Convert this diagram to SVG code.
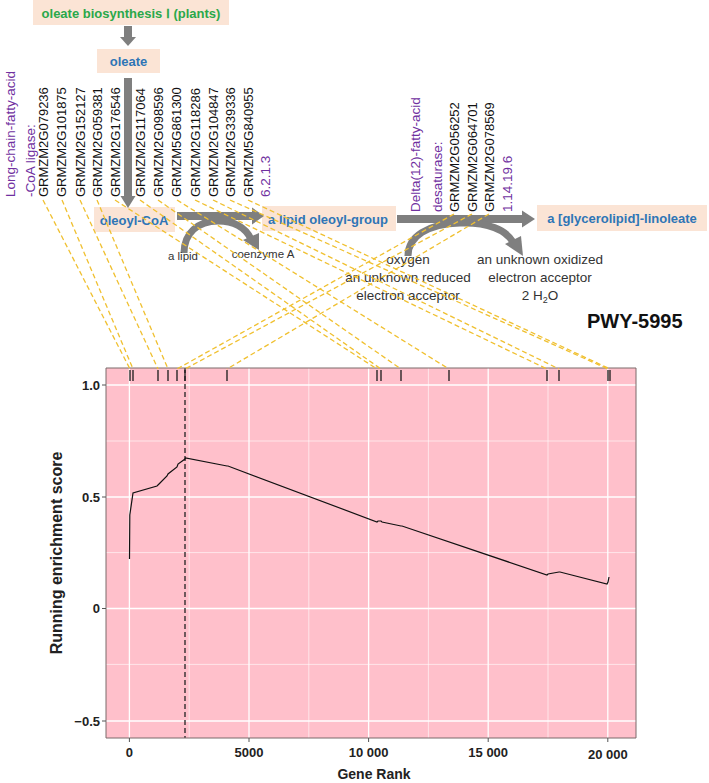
<svg xmlns="http://www.w3.org/2000/svg" width="709" height="783" viewBox="0 0 709 783">
<style>
text{font-family:'Liberation Sans',Arial,sans-serif;}
.box{fill:#fbe4d5;}
.met{fill:#2e75b6;font-weight:bold;font-size:13px;}
.gene{fill:#111;font-size:13px;}
.enz{fill:#7030a0;font-size:13.5px;}
.side{fill:#333;font-size:13.5px;text-anchor:middle;}
.side2{fill:#333;font-size:11.5px;text-anchor:middle;}
.gray{fill:#7f7f7f;}
.curve{fill:none;stroke:#7f7f7f;stroke-width:7;}
.dash{stroke:#f0c030;stroke-width:1.3;stroke-dasharray:5,3;fill:none;}
.gmaj{stroke:#ffffff;stroke-width:1.3;}
.gmin{stroke:#ffffff;stroke-width:0.6;}
.rug{stroke:#1a1a1a;stroke-width:1.3;}
.tick{fill:#222;font-size:13px;font-weight:bold;}
.axt{stroke:#555;stroke-width:1;}
</style>

<!-- pathway nodes -->
<g id="node-oleate-biosynthesis">
<rect class="box" x="33" y="0" width="196" height="25"/>
<text x="131" y="17.5" text-anchor="middle" style="fill:#2aa84a;font-weight:bold;font-size:13px;">oleate biosynthesis Ⅰ (plants)</text>
</g>
<g id="node-oleate">
<rect class="box" x="97" y="49" width="63" height="24"/>
<text class="met" x="128.5" y="66" text-anchor="middle">oleate</text>
</g>
<g id="node-oleoyl-coa">
<rect class="box" x="94" y="207" width="81" height="25"/>
<text class="met" x="134" y="224.5" text-anchor="middle">oleoyl-CoA</text>
</g>
<g id="node-lipid-oleoyl">
<rect class="box" x="262" y="206" width="134" height="25"/>
<text class="met" x="328" y="223.5" text-anchor="middle">a lipid oleoyl-group</text>
</g>
<g id="node-linoleate">
<rect class="box" x="537" y="205" width="170" height="26"/>
<text class="met" x="622" y="223" text-anchor="middle">a [glycerolipid]-linoleate</text>
</g>

<!-- reaction arrows -->
<g id="reaction-arrows">
<rect class="gray" x="124" y="26" width="8" height="11"/>
<polygon class="gray" points="120,37 136,37 128,46"/>
<rect class="gray" x="124" y="78" width="8" height="119"/>
<polygon class="gray" points="120.5,196 135.5,196 128,208"/>
<rect class="gray" x="177" y="212" width="76" height="8"/>
<polygon class="gray" points="252,207.5 252,224.5 264,216"/>
<path class="curve" d="M184,253 C184,233 198,221 218,221 C236,221 246,229 251,239"/>
<polygon class="gray" points="243,240 259,233 259,250"/>
<rect class="gray" x="397" y="215" width="126" height="8"/>
<polygon class="gray" points="522,210.5 522,227.5 535,219"/>
<path class="curve" d="M408,256 C408,236 428,224 460,223 C488,222 506,230 513,242"/>
<polygon class="gray" points="505,244 521,236 523,256"/>
</g>

<!-- side compounds -->
<g id="side-compounds">
<text class="side2" x="183" y="260">a lipid</text>
<text class="side2" x="263" y="258">coenzyme A</text>
<text class="side" x="408" y="264">oxygen</text>
<text class="side" x="408" y="282">an unknown reduced</text>
<text class="side" x="408" y="300">electron acceptor</text>
<text class="side" x="540" y="264">an unknown oxidized</text>
<text class="side" x="540" y="282">electron acceptor</text>
<text class="side" x="540" y="300">2 H<tspan font-size="9" dy="3">2</tspan><tspan dy="-3">O</tspan></text>
</g>

<!-- enzyme labels -->
<g id="enzyme-ligase">
<text class="enz" transform="translate(15,197) rotate(-90)">Long-chain-fatty-acid</text>
<text class="enz" transform="translate(35,197) rotate(-90)">-CoA ligase:</text>
<text class="gene" transform="translate(47.5,197) rotate(-90)">GRMZM2G079236</text>
<text class="gene" transform="translate(66,197) rotate(-90)">GRMZM2G101875</text>
<text class="gene" transform="translate(84.5,197) rotate(-90)">GRMZM2G152127</text>
<text class="gene" transform="translate(101.5,197) rotate(-90)">GRMZM2G059381</text>
<text class="gene" transform="translate(119.5,197) rotate(-90)">GRMZM2G176546</text>
<text class="gene" transform="translate(144.5,197) rotate(-90)">GRMZM2G117064</text>
<text class="gene" transform="translate(162.5,197) rotate(-90)">GRMZM2G098596</text>
<text class="gene" transform="translate(181,197) rotate(-90)">GRMZM5G861300</text>
<text class="gene" transform="translate(199.5,197) rotate(-90)">GRMZM2G118286</text>
<text class="gene" transform="translate(217.5,197) rotate(-90)">GRMZM2G104847</text>
<text class="gene" transform="translate(234.5,197) rotate(-90)">GRMZM2G339336</text>
<text class="gene" transform="translate(252.5,197) rotate(-90)">GRMZM5G840955</text>
<text class="enz" transform="translate(270,197) rotate(-90)">6.2.1.3</text>
</g>
<g id="enzyme-desaturase">
<text class="enz" transform="translate(420,212) rotate(-90)">Delta(12)-fatty-acid</text>
<text class="enz" transform="translate(442,212) rotate(-90)">desaturase:</text>
<text class="gene" transform="translate(458.5,212) rotate(-90)">GRMZM2G056252</text>
<text class="gene" transform="translate(476.5,212) rotate(-90)">GRMZM2G064701</text>
<text class="gene" transform="translate(493.5,212) rotate(-90)">GRMZM2G078569</text>
<text class="enz" transform="translate(512,212) rotate(-90)">1.14.19.6</text>
</g>

<text x="587" y="328" style="font-size:20px;font-weight:bold;fill:#111;">PWY-5995</text>

<!-- plot -->
<g id="plot">
<rect x="106" y="368" width="530" height="370" fill="#ffc0cb"/>
<g>
<line class="gmin" x1="189.2" y1="368" x2="189.2" y2="738"/>
<line class="gmin" x1="308.8" y1="368" x2="308.8" y2="738"/>
<line class="gmin" x1="428.4" y1="368" x2="428.4" y2="738"/>
<line class="gmin" x1="548" y1="368" x2="548" y2="738"/>
<line class="gmin" x1="106" y1="441" x2="636" y2="441"/>
<line class="gmin" x1="106" y1="552.6" x2="636" y2="552.6"/>
<line class="gmin" x1="106" y1="664.4" x2="636" y2="664.4"/>
<line class="gmaj" x1="129.4" y1="368" x2="129.4" y2="738"/>
<line class="gmaj" x1="249" y1="368" x2="249" y2="738"/>
<line class="gmaj" x1="368.6" y1="368" x2="368.6" y2="738"/>
<line class="gmaj" x1="488.2" y1="368" x2="488.2" y2="738"/>
<line class="gmaj" x1="607.8" y1="368" x2="607.8" y2="738"/>
<line class="gmaj" x1="106" y1="385" x2="636" y2="385"/>
<line class="gmaj" x1="106" y1="497" x2="636" y2="497"/>
<line class="gmaj" x1="106" y1="608.5" x2="636" y2="608.5"/>
<line class="gmaj" x1="106" y1="721" x2="636" y2="721"/>
</g>
<line x1="185" y1="368" x2="185" y2="738" stroke="#222" stroke-width="1.3" stroke-dasharray="5,3"/>
<g>
<line class="rug" x1="130" y1="370" x2="130" y2="381"/>
<line class="rug" x1="133" y1="370" x2="133" y2="381"/>
<line class="rug" x1="158" y1="370" x2="158" y2="381"/>
<line class="rug" x1="168" y1="370" x2="168" y2="381"/>
<line class="rug" x1="177" y1="370" x2="177" y2="381"/>
<line class="rug" x1="185" y1="370" x2="185" y2="381"/>
<line class="rug" x1="227" y1="370" x2="227" y2="381"/>
<line class="rug" x1="377" y1="370" x2="377" y2="381"/>
<line class="rug" x1="381" y1="370" x2="381" y2="381"/>
<line class="rug" x1="401" y1="370" x2="401" y2="381"/>
<line class="rug" x1="449" y1="370" x2="449" y2="381"/>
<line class="rug" x1="547" y1="370" x2="547" y2="381"/>
<line class="rug" x1="559" y1="370" x2="559" y2="381"/>
<line class="rug" x1="608" y1="370" x2="608" y2="381"/>
<line class="rug" x1="610" y1="370" x2="610" y2="381"/>
</g>
<polyline fill="none" stroke="#111" stroke-width="1.2" points="129.5,559 129.8,515 133,493 157,486 159,484 167,476 168,474 177,467 178,464 185,459 185.5,458 227,466 228,466 377,522 378,521 381,521 382,522 401,526 402,526 547,575 548,574 559,572 560,572 607,584 608,582 609,577"/>
<path d="M106,368 V738 H636 V368 Z" fill="none" stroke="#7a6a6a" stroke-width="1"/>
<g>
<line class="axt" x1="102" y1="385" x2="106" y2="385"/>
<line class="axt" x1="102" y1="497" x2="106" y2="497"/>
<line class="axt" x1="102" y1="608.5" x2="106" y2="608.5"/>
<line class="axt" x1="102" y1="721" x2="106" y2="721"/>
<line class="axt" x1="129.4" y1="738" x2="129.4" y2="742"/>
<line class="axt" x1="249" y1="738" x2="249" y2="742"/>
<line class="axt" x1="368.6" y1="738" x2="368.6" y2="742"/>
<line class="axt" x1="488.2" y1="738" x2="488.2" y2="742"/>
<line class="axt" x1="607.8" y1="738" x2="607.8" y2="742"/>
</g>
<g text-anchor="end">
<text class="tick" x="100" y="389.5">1.0</text>
<text class="tick" x="100" y="501.5">0.5</text>
<text class="tick" x="100" y="613">0</text>
<text class="tick" x="100" y="725.5">−0.5</text>
</g>
<g text-anchor="middle">
<text class="tick" x="129.4" y="757">0</text>
<text class="tick" x="249" y="757">5000</text>
<text class="tick" x="368.6" y="757">10 000</text>
<text class="tick" x="488.2" y="757">15 000</text>
<text class="tick" x="607.8" y="759">20 000</text>
</g>
<text x="374" y="779" text-anchor="middle" style="font-size:14px;font-weight:bold;fill:#222;">Gene Rank</text>
<text transform="translate(62,553) rotate(-90)" text-anchor="middle" style="font-size:16px;font-weight:bold;fill:#222;">Running enrichment score</text>
</g>

<!-- connectors: genes to rank positions -->
<g id="connectors">
<line class="dash" x1="43" y1="200" x2="130" y2="369"/>
<line class="dash" x1="62" y1="200" x2="133" y2="369"/>
<line class="dash" x1="80" y1="200" x2="158" y2="369"/>
<line class="dash" x1="97" y1="200" x2="168" y2="369"/>
<line class="dash" x1="115" y1="200" x2="377" y2="369"/>
<line class="dash" x1="140" y1="200" x2="381" y2="369"/>
<line class="dash" x1="158" y1="200" x2="401" y2="369"/>
<line class="dash" x1="177" y1="200" x2="449" y2="369"/>
<line class="dash" x1="195" y1="200" x2="547" y2="369"/>
<line class="dash" x1="213" y1="200" x2="559" y2="369"/>
<line class="dash" x1="230" y1="200" x2="608" y2="369"/>
<line class="dash" x1="248" y1="200" x2="610" y2="369"/>
<line class="dash" x1="454" y1="214" x2="177" y2="369"/>
<line class="dash" x1="472" y1="214" x2="185" y2="369"/>
<line class="dash" x1="489" y1="214" x2="227" y2="369"/>
</g>
</svg>
